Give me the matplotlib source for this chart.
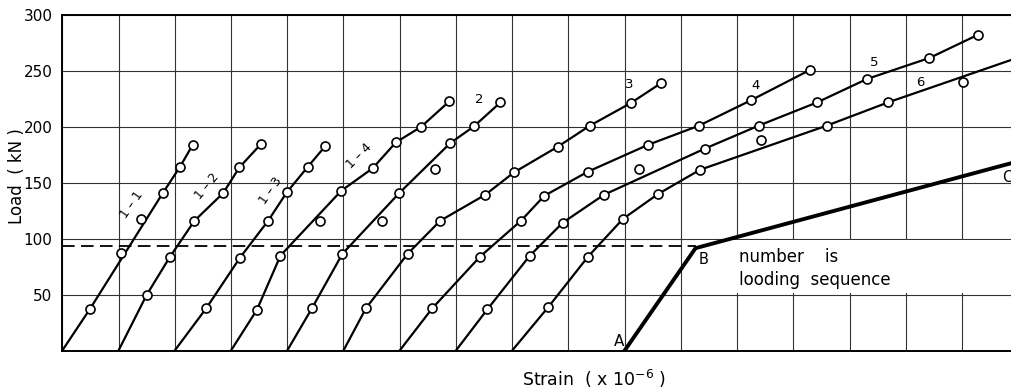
import matplotlib
matplotlib.use("Agg")
import matplotlib.pyplot as plt
from matplotlib.patches import Rectangle
from matplotlib import font_manager

# ---------------- data (strain in grid units, load in kN) ----------------
c11_start = 0.0
c11_x = [0.49, 1.04, 1.40, 1.79, 2.09, 2.32]
c11_y = [37, 87, 117.5, 141, 164, 184]
c11_on = [1, 0, 0, 1, 1, 1]

c12_start = 1.0
c12_x = [1.50, 1.91, 2.35, 2.86, 3.15, 3.54]
c12_y = [49.7, 83.4, 116, 140.7, 163.8, 185]
c12_on = [1, 1, 1, 1, 1, 1]

c13_start = 2.0
c13_x = [2.56, 3.16, 3.66, 3.99, 4.37, 4.68]
c13_y = [37.8, 83, 116, 141.3, 164.5, 183]
c13_on = [1, 1, 1, 1, 1, 1]

c14_start = 3.0
c14_x = [3.46, 3.88, 4.58, 4.96, 5.52, 5.93, 6.38, 6.88]
c14_y = [36.3, 84.9, 116, 142.8, 163, 186, 200, 222.7]
c14_on = [1, 1, 0, 1, 1, 1, 1, 1]

c2_start = 4.0
c2_x = [4.44, 4.98, 5.69, 5.99, 6.63, 6.90, 7.32, 7.79]
c2_y = [37.8, 86.4, 116, 140.7, 162.2, 185.5, 200.4, 221.8]
c2_on = [1, 1, 0, 1, 0, 1, 1, 1]

c3_start = 5.0
c3_x = [5.40, 6.14, 6.72, 7.52, 8.03, 8.81, 9.38, 10.11, 10.65]
c3_y = [37.8, 86.4, 116, 139.2, 159.2, 182.2, 201, 221.3, 239.2]
c3_on = [1, 1, 1, 1, 1, 1, 1, 1, 1]

c4_start = 6.0
c4_x = [6.58, 7.43, 8.16, 8.57, 9.35, 10.42, 11.32, 12.24, 13.30]
c4_y = [37.8, 84, 116.2, 138.3, 160, 184, 201, 223.6, 251]
c4_on = [1, 1, 1, 1, 1, 1, 1, 1, 1]

c5_start = 7.0
c5_x = [7.56, 8.31, 8.90, 9.63, 10.26, 11.43, 12.38, 13.42, 14.31, 15.42, 16.29]
c5_y = [36.9, 84.6, 114.3, 139.2, 162.2, 180.6, 201, 221.8, 242.8, 261.6, 282.5]
c5_on = [1, 1, 1, 1, 0, 1, 1, 1, 1, 1, 1]

c6_start = 8.0
c6_x = [8.64, 9.35, 9.97, 10.59, 11.34, 12.42, 13.59, 14.68, 16.02]
c6_y = [38.7, 84, 117.7, 139.8, 161.6, 187.8, 201, 221.8, 239.7]
c6_on = [1, 1, 1, 1, 1, 0, 1, 1, 0]
c6_end = (17.0, 262)

abc_x = [10.0, 11.26, 17.0]
abc_y = [0, 91.5, 169.2]
dashed_load = 93.0

curve_labels = ["1 – 1", "1 – 2", "1 – 3", "1 – 4", "2", "3", "4", "5", "6"]
label_x = [1.23, 2.58, 3.70, 5.27, 7.41, 10.09, 12.32, 14.44, 15.26]
label_y = [130, 146.8, 143, 174, 224, 237.6, 236.8, 257.6, 239.7]
label_rot = [55, 50, 55, 45, 0, 0, 0, 0, 0]

y_ticks = [50, 100, 150, 200, 250, 300]
y_ticklabels = ["50", "100", "150", "200", "250", "300"]

# ---------------- fonts ----------------
avail = {f.name for f in font_manager.fontManager.ttflist}
tick_family = ["Liberation Sans Narrow", "DejaVu Sans"] if "Liberation Sans Narrow" in avail else ["DejaVu Sans"]

# ---------------- figure ----------------
W, H = 1011, 392
fig = plt.figure(figsize=(W / 100, H / 100), dpi=100)
ax = fig.add_axes([62.3 / W, 41.5 / H, 1 - 62.3 / W, 335.5 / H])
ax.set_xlim(0, 16.87)
ax.set_ylim(0, 300)

ax.set_xticks(range(17))
ax.set_xticklabels([])
ax.set_yticks([0] + y_ticks)
ax.set_yticklabels([""] + y_ticklabels, family=tick_family, fontsize=11)
ax.tick_params(length=0, pad=7)
ax.grid(True, color="0.2", lw=0.8)
ax.set_axisbelow(True)
ax.spines["right"].set_visible(False)
for s in ("left", "bottom", "top"):
    ax.spines[s].set_linewidth(1.4)

curves = [
    (c11_start, c11_x, c11_y, c11_on, None),
    (c12_start, c12_x, c12_y, c12_on, None),
    (c13_start, c13_x, c13_y, c13_on, None),
    (c14_start, c14_x, c14_y, c14_on, None),
    (c2_start, c2_x, c2_y, c2_on, None),
    (c3_start, c3_x, c3_y, c3_on, None),
    (c4_start, c4_x, c4_y, c4_on, None),
    (c5_start, c5_x, c5_y, c5_on, None),
    (c6_start, c6_x, c6_y, c6_on, c6_end),
]
for start, xs, ys, on, end in curves:
    lx = [start] + [x for x, o in zip(xs, on) if o]
    ly = [0] + [y for y, o in zip(ys, on) if o]
    if end is not None:
        lx.append(end[0])
        ly.append(end[1])
    ax.plot(lx, ly, color="k", lw=1.6, zorder=3, solid_joinstyle="round")
    ax.plot(xs, ys, "o", mfc="white", mec="k", ms=6.5, mew=1.2, zorder=4)

# white label box
ax.add_patch(Rectangle((abc_x[1], 51), 17 - abc_x[1], 47.5, fc="white", ec="none", zorder=1))

# A-B-C path and dashed level
ax.plot(abc_x, abc_y, color="k", lw=2.8, zorder=3, solid_joinstyle="miter")
ax.plot([0, abc_x[1]], [dashed_load, dashed_load], color="k", lw=1.3,
        ls=(0, (7, 3.5)), zorder=3)

for t, x, y, r in zip(curve_labels, label_x, label_y, label_rot):
    fs = 9 if r else 9.5
    ax.text(x, y, t, rotation=r, ha="center", va="center", fontsize=fs, zorder=5)

ax.text(9.9, 8, "A", ha="center", va="center", fontsize=11, zorder=5)
ax.text(11.40, 81.5, "B", ha="center", va="center", fontsize=10.5, zorder=5)
ax.text(16.80, 155, "C", ha="center", va="center", fontsize=10.5, zorder=5)
ax.text(12.04, 83.7, "number    is", ha="left", va="center", fontsize=12, zorder=5)
ax.text(12.04, 63.1, "looding  sequence", ha="left", va="center", fontsize=12, zorder=5)

fig.text(17 / W, 1 - 176 / H, "Load  ( kN )", rotation=90, ha="center", va="center", fontsize=12)
fig.text(594 / W, 1 - 379 / H, "Strain  ( x 10$^{-6}$ )", ha="center", va="center", fontsize=12.5)

fig.savefig("out.png", dpi=100)
